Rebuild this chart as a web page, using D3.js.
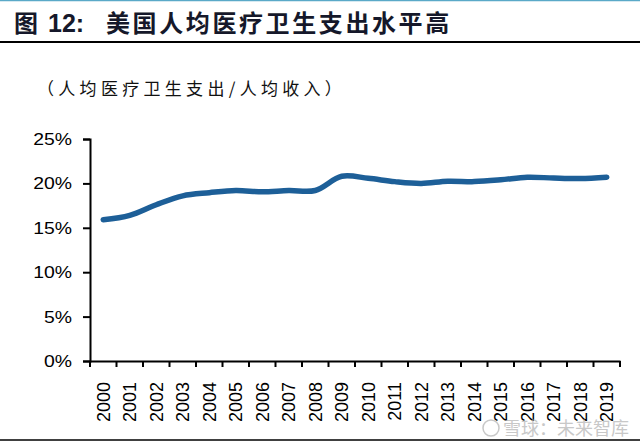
<!DOCTYPE html>
<html><head><meta charset="utf-8">
<script src="https://cdn.jsdelivr.net/npm/d3@7"></script>
<style>
html,body{margin:0;padding:0;background:#fff;}
svg{display:block;}
</style></head>
<body>
<svg id="c" width="640" height="445"></svg>
<script>
const years = ["2000","2001","2002","2003","2004","2005","2006","2007","2008","2009","2010","2011","2012","2013","2014","2015","2016","2017","2018","2019"];
const ratio = [15.9,16.4,17.6,18.6,18.95,19.2,19.05,19.2,19.2,20.8,20.57,20.2,20.0,20.25,20.2,20.4,20.7,20.6,20.55,20.7];
const yTicks = [0,5,10,15,20,25];
const titleLabel = "图";
const titleNum = "12:";
const titleText = "美国人均医疗卫生支出水平高";
const subtitleText = "（人均医疗卫生支出/人均收入）";
const watermarkText = "雪球：未来智库";

const svg = d3.select("#c");
const cjk = "'Noto Sans CJK SC','Noto Sans',sans-serif";
const latin = "Arial,'Liberation Sans',sans-serif";

// top thin line
svg.append("line").attr("x1",0).attr("x2",640).attr("y1",0.5).attr("y2",0.5)
  .attr("stroke","#5aa9c8").attr("stroke-width",1.5);
// title
const tcol = "#15182a";
svg.append("text").attr("x",14).attr("y",32)
  .attr("font-family",cjk).attr("font-weight","bold").attr("font-size",24)
  .attr("fill",tcol).text(titleLabel);
svg.append("text").attr("x",48).attr("y",32)
  .attr("font-family",latin).attr("font-weight","bold").attr("font-size",25)
  .attr("fill",tcol).text(titleNum);
svg.append("text").attr("x",106).attr("y",32)
  .attr("font-family",cjk).attr("font-weight","bold").attr("font-size",24)
  .attr("letter-spacing",2.6).attr("fill",tcol).text(titleText);
svg.append("line").attr("x1",0).attr("x2",640).attr("y1",42).attr("y2",42)
  .attr("stroke","#000").attr("stroke-width",2);
// subtitle
svg.append("text").attr("x",37).attr("y",95)
  .attr("font-family",cjk).attr("font-size",17).attr("letter-spacing",4.3).attr("fill","#111")
  .text(subtitleText);

const x = d3.scaleBand().domain(years).range([90,620]).paddingInner(0).paddingOuter(0);
const y = d3.scaleLinear().domain([0,25]).range([361,139]);

// y axis
const ya = svg.append("g").attr("transform","translate(90,0)")
  .call(d3.axisLeft(y).tickValues(yTicks).tickFormat(d=>d+"%").tickSize(7).tickPadding(11));
ya.select(".domain").attr("stroke","#000").attr("stroke-width",2);
ya.selectAll(".tick line").attr("stroke","#000").attr("stroke-width",2);
ya.selectAll(".tick text").attr("font-family",latin).attr("font-size",17).attr("fill","#000")
  .each(function(){
    const L = this.getComputedTextLength();
    d3.select(this).attr("textLength",L*1.14).attr("lengthAdjust","spacingAndGlyphs");
  });

// x axis
const xa = svg.append("g").attr("transform","translate(0,361)")
  .call(d3.axisBottom(x).tickSize(0).tickPadding(0));
xa.select(".domain").attr("stroke","#000").attr("stroke-width",2);
xa.selectAll(".tick text")
  .attr("font-family",latin).attr("font-size",18).attr("fill","#000")
  .attr("text-anchor","end").attr("dy","0.35em")
  .attr("transform","translate(0,21) rotate(-90)");
// boundary ticks
const bounds = years.map(d=>x(d)).concat([x(years[years.length-1])+x.bandwidth()]);
svg.append("g").selectAll("line").data(bounds).join("line")
  .attr("x1",d=>d).attr("x2",d=>d).attr("y1",361).attr("y2",367)
  .attr("stroke","#000").attr("stroke-width",2);

// line
const line = d3.line().x((d,i)=>x(years[i])+x.bandwidth()/2).y(d=>y(d))
  .curve(d3.curveCatmullRom.alpha(0.5));
svg.append("path").datum(ratio).attr("d",line)
  .attr("fill","none").attr("stroke","#1d5f98").attr("stroke-width",5.5)
  .attr("stroke-linecap","round").attr("stroke-linejoin","round");

// watermark
const wm = svg.append("g").attr("opacity",0.8);
wm.append("circle").attr("cx",491).attr("cy",428).attr("r",8)
  .attr("fill","none").attr("stroke","#bbb").attr("stroke-width",1.5);
wm.append("text").attr("x",503).attr("y",435)
  .attr("font-family",cjk).attr("font-size",18).attr("fill","#bbb")
  .text(watermarkText);

// bottom line
svg.append("line").attr("x1",0).attr("x2",640).attr("y1",440).attr("y2",440)
  .attr("stroke","#000").attr("stroke-width",1.5);
</script>
</body></html>
